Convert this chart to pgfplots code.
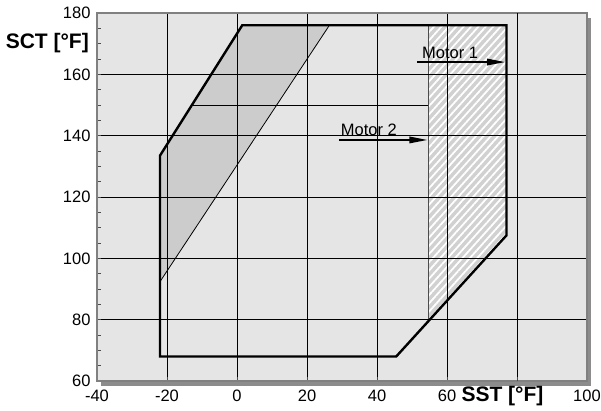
\documentclass[border=0pt]{standalone}
\usepackage{pgfplots}
\pgfplotsset{compat=1.18}
\usepackage{fontspec}
\setmainfont{Liberation Sans}
\usetikzlibrary{arrows.meta,patterns.meta}
\begin{document}
\begin{tikzpicture}
\useasboundingbox (-97pt,-29pt) rectangle (504pt,381pt);
\fill[black!45] (4pt,-5pt) rectangle (494pt,363pt);
\begin{axis}[
 name=ax,
 scale only axis, width=490pt, height=368pt,
 xmin=-40,xmax=100,ymin=60,ymax=180,
 xtick={-40,-20,0,20,40,60,100},
 ytick={60,80,...,180},
 extra x ticks={80}, extra x tick labels={},
 extra x tick style={grid style={black!55,line width=1.2pt}},
 minor x tick num=3, minor y tick num=3,
 tick pos=left, tick align=inside,
 major tick length=4pt, minor tick length=4pt,
 grid=major, major grid style={black, line width=0.7pt},
 axis line style={black!50, line width=1.2pt},
 axis background/.style={fill=black!10},
 tick style={black!70, line width=0.8pt},
 tick label style={font=\fontsize{16.5}{18}\selectfont},
 x tick label style={yshift=-5pt},
 y tick label style={xshift=-3pt},
 /pgf/number format/assume math mode=true,
 axis on top,
]
\addplot[fill=black!20, draw=none] coordinates {(-22,92.4) (-22,133.5) (1.5,176) (26.4,176)} -- cycle;
\addplot[black, line width=0.8pt] coordinates {(-22,92.4) (26.4,176)};
\addplot[fill=black!18, draw=none] coordinates {(54.6,176) (77,176) (77,107.5) (54.6,79.4)} -- cycle;
\addplot[draw=none, pattern={Lines[angle=48,distance=5.5pt,line width=1.8pt]}, pattern color=white] coordinates {(54.6,176) (77,176) (77,107.5) (54.6,79.4)} -- cycle;
\addplot[black!70, line width=0.8pt] coordinates {(54.6,79.4) (54.6,176)};
\addplot[black, line width=0.8pt] coordinates {(-12.9,150) (54.6,150)};
\addplot[black, line width=2.4pt, line join=miter] coordinates {(-22,68) (45.5,68) (77,107.5) (77,176) (1.5,176) (-22,133.5)} -- cycle;
\addplot[black, line width=1.6pt, -{Triangle[length=18pt,width=6.5pt]}] coordinates {(51.5,164) (76.6,164)};
\addplot[black, line width=1.6pt, -{Triangle[length=18pt,width=6.5pt]}] coordinates {(29.2,138.6) (54.4,138.6)};
\end{axis}
\node[anchor=base west, inner sep=0pt, font=\fontsize{16.5}{18}\selectfont] at (325pt,322pt) {Motor 1};
\node[anchor=base west, inner sep=0pt, font=\fontsize{16.5}{18}\selectfont] at (243.7pt,246pt) {Motor 2};
\node[anchor=east, inner sep=0pt, font=\bfseries\fontsize{21}{24}\selectfont] at (-8pt,338pt) {SCT [°F]};
\node[inner sep=0pt, font=\bfseries\fontsize{21}{24}\selectfont] at (405.5pt,-15pt) {SST [°F]};
\end{tikzpicture}
\end{document}
